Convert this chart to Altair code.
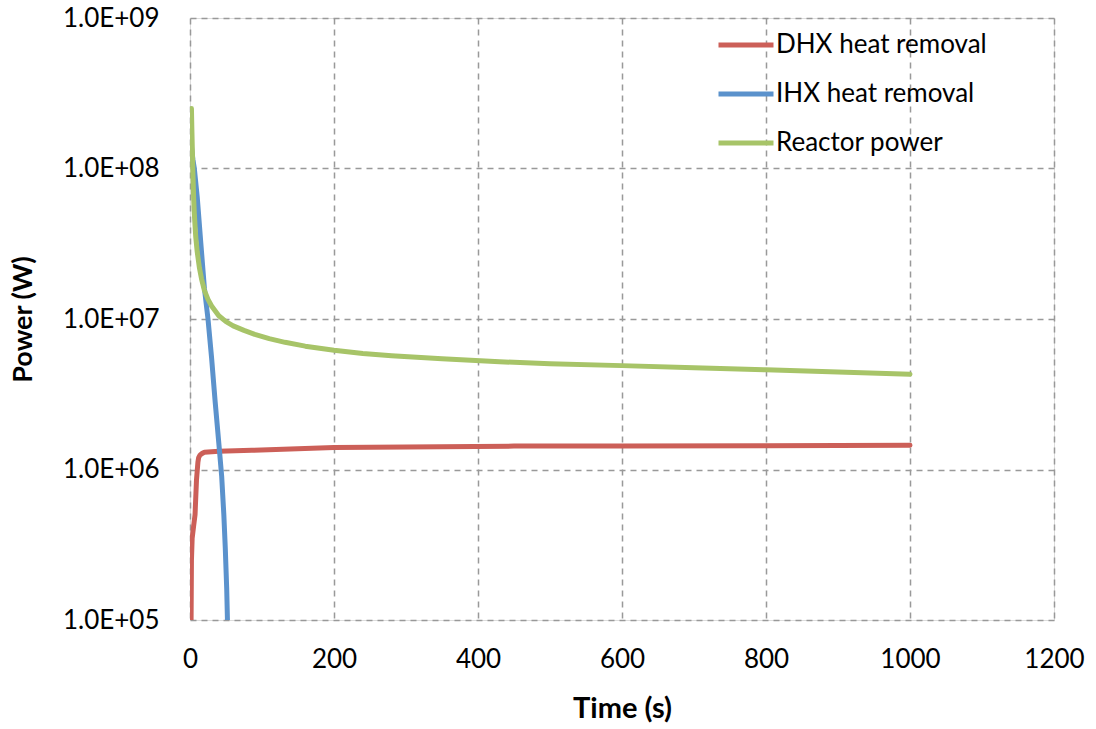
import altair as alt
import pandas as pd

# Series data
dhx_t = [1.5, 2, 3, 5, 7, 9, 11, 12, 14, 17, 20, 40, 86, 200, 300, 450, 600, 800, 1000]
dhx_p = [1.0e5, 2.5e5, 3.5e5, 4.2e5, 5.0e5, 8.5e5, 1.12e6, 1.2e6, 1.25e6, 1.28e6, 1.30e6,
         1.32e6, 1.34e6, 1.40e6, 1.41e6, 1.43e6, 1.43e6, 1.44e6, 1.45e6]

ihx_t = [2, 4, 6, 10, 15, 20, 25, 30, 35, 40, 44, 47, 49, 51, 52]
ihx_p = [1.4e8, 1.15e8, 1.0e8, 6.5e7, 3.2e7, 1.6e7, 1.0e7, 5.5e6, 2.8e6, 1.5e6,
         9.0e5, 5.0e5, 3.0e5, 1.6e5, 1.0e5]

rx_t = [2, 2.5, 3, 4, 5, 6, 8, 10, 13, 16, 20, 25, 30, 40, 50, 60, 75, 90, 110, 132,
        160, 200, 240, 280, 350, 430, 500, 600, 700, 800, 900, 1000]
rx_p = [2.5e8, 1.9e8, 1.5e8, 9.5e7, 6.5e7, 5.0e7, 3.5e7, 2.8e7, 2.2e7, 1.85e7, 1.55e7,
        1.35e7, 1.22e7, 1.05e7, 9.6e6, 9.0e6, 8.4e6, 7.9e6, 7.4e6, 7.0e6, 6.6e6, 6.2e6,
        5.9e6, 5.7e6, 5.45e6, 5.2e6, 5.05e6, 4.9e6, 4.75e6, 4.6e6, 4.45e6, 4.3e6]

series_names = ["DHX heat removal", "IHX heat removal", "Reactor power"]
series_colors = ["#CC5F58", "#5B92CC", "#A7C468"]

x_ticks = [0, 200, 400, 600, 800, 1000, 1200]
y_ticks = [1e5, 1e6, 1e7, 1e8, 1e9]

rows = []
for name, ts, ps in zip(series_names, [dhx_t, ihx_t, rx_t], [dhx_p, ihx_p, rx_p]):
    for i, (t, p) in enumerate(zip(ts, ps)):
        rows.append({"series": name, "t": t, "p": p, "i": i})
df = pd.DataFrame(rows)

chart = alt.Chart(df).mark_line(
    strokeWidth=5, strokeCap="round", strokeJoin="round", clip=True
).encode(
    x=alt.X("t:Q",
            scale=alt.Scale(domain=[0, 1200], nice=False, zero=False),
            axis=alt.Axis(values=x_ticks, title="Time (s)", grid=True, format="d",
                          gridDash=[6, 5], gridColor="#999999", gridWidth=1.5,
                          domain=False, ticks=False, labelFlush=False,
                          labelFont="Lato", labelFontSize=26,
                          labelColor="#000000", labelPadding=26,
                          titleFont="Lato", titleFontSize=29, titleFontWeight="bold",
                          titleColor="#000000", titlePadding=22)),
    y=alt.Y("p:Q",
            scale=alt.Scale(type="log", domain=[1e5, 1e9], nice=False),
            axis=alt.Axis(values=y_ticks, title="Power (W)", grid=True,
                          gridDash=[6, 5], gridColor="#999999", gridWidth=1.5,
                          domain=False, ticks=False, labelFlush=False,
                          labelExpr="'1.0E+0' + format(round(log(datum.value) / LN10), 'd')",
                          labelFont="Lato", labelFontSize=26,
                          labelColor="#000000", labelPadding=31,
                          titleFont="Lato", titleFontSize=27, titleFontWeight="bold",
                          titleColor="#000000", titlePadding=25)),
    color=alt.Color("series:N",
                    scale=alt.Scale(domain=series_names, range=series_colors),
                    legend=alt.Legend(title=None, orient="none", legendX=526, legendY=-3,
                                      symbolType="stroke", symbolSize=3025,
                                      symbolStrokeWidth=5, labelFont="Lato",
                                      labelFontSize=26, labelColor="#000000",
                                      labelLimit=500, labelOffset=0, rowPadding=6)),
    order=alt.Order("i:Q"),
).properties(
    width=864, height=602,
    autosize=alt.AutoSizeParams(type="none"),
    padding={"left": 190, "top": 18, "right": 42, "bottom": 109},
).configure_view(
    stroke="#999999", strokeWidth=3
).configure(background="white")

chart.save("out.html", embed_options={"renderer": "svg", "actions": False})
